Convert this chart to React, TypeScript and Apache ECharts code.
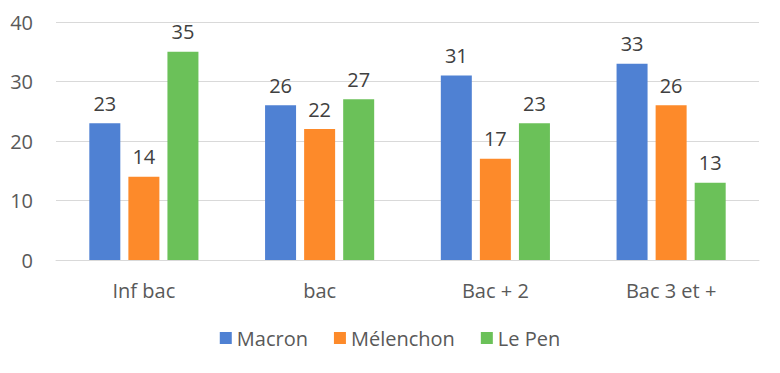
import React, { useEffect, useRef } from "react";
import * as echarts from "echarts";

const categories = ["Inf bac", "bac", "Bac + 2", "Bac 3 et +"];
const macron = [23, 26, 31, 33];
const melenchon = [14, 22, 17, 26];
const lepen = [35, 27, 23, 13];
const seriesNames = ["Macron", "Mélenchon", "Le Pen"];
const colors = ["#4F81D3", "#FD8A2A", "#6BC159"];

const FONT = "'Open Sans', 'Noto Sans', sans-serif";

export default function App() {
  const ref = useRef<HTMLDivElement>(null);
  useEffect(() => {
    if (!ref.current) return;
    const chart = echarts.init(ref.current, undefined, { renderer: "svg" });
    const data = [macron, melenchon, lepen];
    chart.setOption({
      animation: false,
      color: colors,
      textStyle: { fontFamily: FONT },
      grid: { left: 56, right: 21, top: 22, bottom: 113 },
      legend: {
        data: seriesNames,
        bottom: 20,
        left: "center",
        itemWidth: 12,
        itemHeight: 12,
        itemGap: 26,
        icon: "rect",
        textStyle: { fontFamily: FONT, fontSize: 20, color: "#595959" },
      },
      xAxis: {
        type: "category",
        data: categories,
        axisTick: { show: false },
        axisLine: { lineStyle: { color: "#D9D9D9", width: 1 } },
        axisLabel: { fontFamily: FONT, fontSize: 20, color: "#595959", margin: 20 },
      },
      yAxis: {
        type: "value",
        min: 0,
        max: 40,
        interval: 10,
        axisLine: { show: false },
        axisTick: { show: false },
        splitLine: { lineStyle: { color: "#D9D9D9", width: 1 } },
        axisLabel: { fontFamily: FONT, fontSize: 20, color: "#595959", margin: 23 },
      },
      series: seriesNames.map((name, i) => ({
        name,
        type: "bar",
        data: data[i],
        barWidth: 31,
        barGap: "26%",
        label: {
          show: true,
          position: "top",
          distance: 10,
          fontFamily: FONT,
          fontSize: 20,
          color: "#404040",
        },
      })),
    });
    return () => chart.dispose();
  }, []);
  return <div ref={ref} style={{ width: 780, height: 373, margin: -8 }} />;
}
